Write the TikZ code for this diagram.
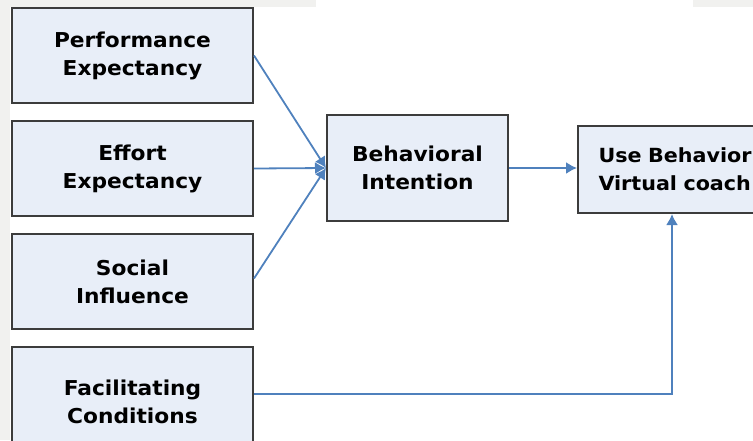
\documentclass[tikz,border=0pt]{standalone}
\usepackage{fontspec}
\setmainfont{DejaVu Sans}[FakeStretch=1.06]
\usetikzlibrary{positioning,arrows.meta}
\definecolor{boxfill}{HTML}{E8EEF8}
\definecolor{boxline}{HTML}{3C3C3C}
\definecolor{linkblue}{HTML}{4F81BD}
\definecolor{pagegray}{HTML}{F1F1EF}

\tikzset{
  factor/.style={draw=boxline, line width=2pt, fill=boxfill, font=\bfseries\fontsize{20.5}{28}\selectfont,
    align=center, minimum width=241pt, minimum height=95pt, inner sep=0pt},
  link/.style={linkblue, line width=1.8pt, -{Latex[length=11pt,width=12pt]}}
}

\begin{document}
\begin{tikzpicture}[x=1pt,y=-1pt]
\useasboundingbox (0,0) rectangle (753,440);
\clip (0,0) rectangle (753,440);

% page background strips
\fill[pagegray] (0,0) rectangle (10,440);
\fill[pagegray] (0,0) rectangle (316,7);
\fill[pagegray] (693,0) rectangle (753,7);

% the four determinants
\node[factor] (perf) at (132.5,55.5) {Performance\\Expectancy};
\node[factor] (effort) at (132.5,168.5) {Effort\\Expectancy};
\node[factor] (social) at (132.5,281.5) {Social\\Influence};
\node[factor, minimum height=110pt, anchor=north] (facil) at (132.5,346) {Facilitating\\Conditions};

% intention and use
\node[factor, minimum width=181pt, minimum height=106pt] (intent) at (417.5,168) {Behavioral\\Intention};
\node[factor, font=\bfseries\fontsize{19.5}{28}\selectfont, minimum height=87pt, anchor=north west,
  inner xsep=13pt, text width=200pt, align=left] (use) at (577,125) {Use Behavior\\Virtual coach};
\coordinate (usefoot) at ([xshift=95pt]use.south west);

% arrows
\draw[link] (perf.east) -- (intent.west);
\draw[link] (effort.east) -- (intent.west);
\draw[link] ([yshift=3pt]social.east) -- (intent.west);
\draw[link] (intent.east) -- (use.west |- intent.east);
\draw[link] ([yshift=8pt]facil.east) -| (usefoot);
\end{tikzpicture}
\end{document}
